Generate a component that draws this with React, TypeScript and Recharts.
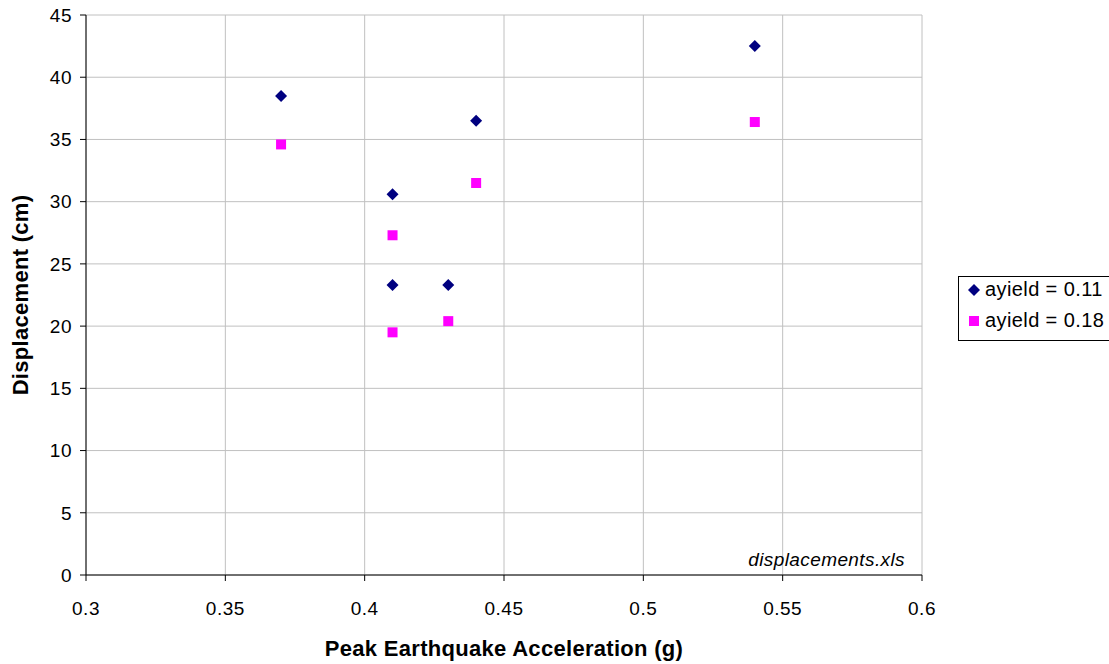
import { ScatterChart, Scatter, XAxis, YAxis, CartesianGrid, Legend, Label } from 'recharts'

// peak acceleration (g) vs displacement (cm)
const accel11 = [0.37, 0.41, 0.41, 0.43, 0.44, 0.54]
const disp11 = [38.5, 30.6, 23.3, 23.3, 36.5, 42.5]
const accel18 = [0.37, 0.41, 0.41, 0.43, 0.44, 0.54]
const disp18 = [34.6, 27.3, 19.5, 20.4, 31.5, 36.4]
const xTicks = [0.3, 0.35, 0.4, 0.45, 0.5, 0.55, 0.6]
const yTicks = [0, 5, 10, 15, 20, 25, 30, 35, 40, 45]
const seriesNames = ['ayield = 0.11', 'ayield = 0.18']

const pts11 = accel11.map((x, i) => ({ x, y: disp11[i] }))
const pts18 = accel18.map((x, i) => ({ x, y: disp18[i] }))

const FONT = '"Liberation Sans", Arial, sans-serif'
const tickStyle = { fill: '#000', fontSize: 19, fontFamily: FONT, letterSpacing: 0.5 }
const titleStyle = { fill: '#000', fontSize: 22, fontWeight: 'bold', fontFamily: FONT, letterSpacing: 0.3 }

const Diamond = (p: any) => {
  const { cx, cy } = p
  const r = 6
  return <polygon points={`${cx},${cy - r} ${cx + r},${cy} ${cx},${cy + r} ${cx - r},${cy}`} fill="#000080" />
}
const Square = (p: any) => {
  const { cx, cy } = p
  return <rect x={cx - 5} y={cy - 5} width={10} height={10} fill="#ff00ff" />
}

const LegendBox = () => (
  <div style={{ border: '1px solid #000', background: '#fff', padding: '0 0 0 8px', fontFamily: FONT, fontSize: 20, letterSpacing: 0.4, color: '#000', width: 160, height: 65, boxSizing: 'border-box', overflow: 'hidden' }}>
    <div style={{ position: 'relative', top: -3 }}>
      {seriesNames.map((name, i) => (
        <div key={name} style={{ display: 'flex', alignItems: 'center', height: 31 }}>
          <svg width={14} height={14} style={{ marginRight: 4 }}>
            {i === 0 ? <polygon points="7,1 13,7 7,13 1,7" fill="#000080" /> : <rect x={2} y={2} width={10} height={10} fill="#ff00ff" />}
          </svg>
          <span>{name}</span>
        </div>
      ))}
    </div>
  </div>
)

export default function App() {
  return (
    <div style={{ position: 'absolute', left: 0, top: 0, width: 1109, height: 664, background: '#fff', fontFamily: FONT }}>
      <ScatterChart width={1109} height={664} margin={{ top: 15, right: 27, bottom: 0, left: 26 }}>
        <CartesianGrid stroke="#c0c0c0" strokeWidth={1} />
        <XAxis
          type="number"
          dataKey="x"
          domain={[0.3, 0.6]}
          ticks={xTicks}
          tickFormatter={(v) => String(v)}
          height={89}
          tickSize={6}
          tickMargin={21}
          stroke="#000"
          tick={tickStyle}
        >
          <Label value="Peak Earthquake Acceleration (g)" position="insideBottom" offset={8} style={titleStyle} />
        </XAxis>
        <YAxis
          type="number"
          dataKey="y"
          domain={[0, 45]}
          ticks={yTicks}
          width={60}
          tickSize={6}
          tickMargin={8}
          stroke="#000"
          tick={tickStyle}
        >
          <Label value="Displacement (cm)" angle={-90} position="insideLeft" offset={-6} style={{ ...titleStyle, textAnchor: 'middle' }} />
        </YAxis>
        <Legend content={<LegendBox />} layout="vertical" align="right" verticalAlign="middle" wrapperStyle={{ left: 958, top: 276, width: 160 }} />
        <Scatter name={seriesNames[0]} data={pts11} shape={Diamond} isAnimationActive={false} />
        <Scatter name={seriesNames[1]} data={pts18} shape={Square} isAnimationActive={false} />
      </ScatterChart>
      <div style={{ position: 'absolute', right: 204, top: 549, fontStyle: 'italic', fontSize: 19, letterSpacing: 0.4, fontFamily: FONT, color: '#000' }}>
        displacements.xls
      </div>
    </div>
  )
}
